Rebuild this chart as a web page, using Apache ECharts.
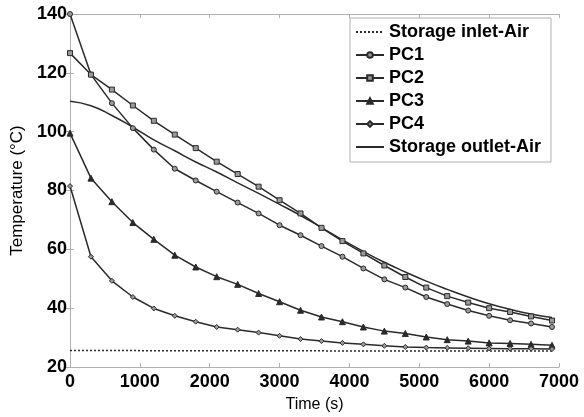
<!DOCTYPE html>
<html>
<head>
<meta charset="utf-8">
<script src="https://cdn.jsdelivr.net/npm/echarts@6/dist/echarts.min.js"></script>
<style>
  html, body { margin: 0; padding: 0; background: #fff; }
  #chart-container { width: 584px; height: 417px; }
</style>
</head>
<body>
<div id="chart-container"></div>
<script>
// time steps (s), one marker every 300 s
var times = [0, 300, 600, 900, 1200, 1500, 1800, 2100, 2400, 2700, 3000, 3300,
  3600, 3900, 4200, 4500, 4800, 5100, 5400, 5700, 6000, 6300, 6600, 6900];

var inletAir = [25.6, 25.6, 25.6, 25.6, 25.5, 25.5, 25.5, 25.5, 25.5, 25.5, 25.5, 25.5,
  25.5, 25.4, 25.4, 25.4, 25.4, 25.4, 25.4, 25.4, 25.4, 25.4, 25.4, 25.4];
var pc1 = [140, 119.4, 109.7, 101.2, 93.9, 87.4, 83.4, 79.6, 75.9, 72.2, 68.2, 64.8,
  61.1, 57.5, 53.5, 49.8, 47.0, 43.8, 41.4, 39.2, 37.4, 35.9, 34.8, 33.6];
var pc2 = [126.7, 119.4, 114.3, 108.9, 103.7, 99.0, 94.4, 89.8, 85.6, 81.3, 76.7, 72.2,
  67.3, 62.8, 58.6, 54.5, 50.6, 47.0, 44.1, 41.9, 40.0, 38.7, 37.2, 35.8];
var pc3 = [99.5, 84.2, 76.2, 69.1, 63.4, 58.0, 54.0, 50.7, 48.1, 45.0, 42.2, 39.3,
  37.0, 35.4, 33.6, 32.2, 31.4, 30.2, 29.3, 28.8, 28.2, 28.0, 27.7, 27.4];
var pc4 = [81.5, 57.5, 49.3, 43.8, 39.9, 37.4, 35.4, 33.6, 32.7, 31.7, 30.6, 29.5,
  28.8, 28.2, 27.7, 27.2, 26.8, 26.6, 26.5, 26.4, 26.3, 26.2, 26.2, 26.1];
var outletAir = [110.3, 108.8, 105.5, 101.5, 97.2, 93.5, 89.7, 86.3, 82.6, 79.0, 75.3, 71.5,
  67.4, 63.2, 59.3, 55.6, 52.3, 49.2, 46.4, 43.8, 41.5, 39.6, 38.0, 36.8];

var seriesNames = ['Storage inlet-Air', 'PC1', 'PC2', 'PC3', 'PC4', 'Storage outlet-Air'];

function pairs(vals) {
  return times.map(function (t, i) { return [t, vals[i]]; });
}

var dom = document.getElementById('chart-container');
var myChart = echarts.init(dom, null, { renderer: 'canvas' });

var frameColor = '#b0b0b0';
var lineColor = '#2a2a2a';
var fontFam = 'Liberation Sans, Arial, sans-serif';
var tickLabel = {
  color: '#000', fontWeight: 'bold', fontSize: 18, fontFamily: fontFam,
  formatter: function (v) { return String(v); }
};

function markerSeries(name, vals, symbol, fill) {
  return {
    name: name,
    type: 'line',
    data: pairs(vals),
    symbol: symbol,
    symbolSize: symbol === 'triangle' ? 6 : 5,
    showAllSymbol: true,
    lineStyle: { color: lineColor, width: 1.5 },
    itemStyle: { color: fill, borderColor: lineColor, borderWidth: 1 },
    z: 3
  };
}

var option = {
  animation: false,
  backgroundColor: '#fff',
  grid: { left: 70, right: 25, top: 14, bottom: 50, outerBoundsMode: 'none' },
  legend: {
    data: seriesNames,
    orient: 'vertical',
    left: 350,
    top: 18,
    itemWidth: 28,
    itemHeight: 7,
    itemGap: 5,
    padding: [5, 10, 6, 5],
    backgroundColor: '#fff',
    borderColor: frameColor,
    borderWidth: 1,
    textStyle: { color: '#000', fontWeight: 'bold', fontSize: 18, fontFamily: fontFam }
  },
  xAxis: [
    {
      type: 'value', min: 0, max: 7000, interval: 1000,
      name: 'Time (s)', nameLocation: 'middle', nameGap: 30,
      nameTextStyle: { color: '#000', fontSize: 16, fontFamily: fontFam },
      axisLine: { lineStyle: { color: frameColor, width: 1 } },
      axisTick: { inside: true, length: 4, lineStyle: { color: frameColor } },
      axisLabel: Object.assign({ margin: 6 }, tickLabel),
      splitLine: { show: false }
    },
    {
      type: 'value', min: 0, max: 7000, interval: 1000, position: 'top',
      axisLine: { lineStyle: { color: frameColor, width: 1 } },
      axisTick: { inside: true, length: 4, lineStyle: { color: frameColor } },
      axisLabel: { show: false },
      splitLine: { show: false }
    }
  ],
  yAxis: [
    {
      type: 'value', min: 20, max: 140, interval: 20,
      name: 'Temperature (\u00B0C)', nameLocation: 'middle', nameGap: 41,
      nameTextStyle: { color: '#000', fontSize: 17, fontFamily: fontFam },
      axisLine: { show: true, lineStyle: { color: frameColor, width: 1 } },
      axisTick: { show: true, inside: true, length: 4, lineStyle: { color: frameColor } },
      axisLabel: Object.assign({ margin: 3 }, tickLabel),
      splitLine: { show: false }
    },
    {
      type: 'value', min: 20, max: 140, interval: 20, position: 'right',
      axisLine: { show: true, lineStyle: { color: frameColor, width: 1 } },
      axisTick: { show: true, inside: true, length: 4, lineStyle: { color: frameColor } },
      axisLabel: { show: false },
      splitLine: { show: false }
    }
  ],
  series: [
    {
      name: 'Storage inlet-Air',
      type: 'line',
      data: pairs(inletAir),
      symbol: 'none',
      lineStyle: { color: lineColor, width: 1.5, type: [2, 2] },
      itemStyle: { color: 'rgba(0,0,0,0)', borderWidth: 0 }
    },
    markerSeries('PC1', pc1, 'circle', '#9a9a9a'),
    markerSeries('PC2', pc2, 'rect', '#9a9a9a'),
    markerSeries('PC3', pc3, 'triangle', '#2a2a2a'),
    markerSeries('PC4', pc4, 'diamond', '#9a9a9a'),
    {
      name: 'Storage outlet-Air',
      type: 'line',
      data: pairs(outletAir),
      smooth: true,
      symbol: 'none',
      lineStyle: { color: lineColor, width: 1.5 },
      itemStyle: { color: 'rgba(0,0,0,0)', borderWidth: 0 }
    }
  ]
};

myChart.setOption(option);
window.addEventListener('resize', myChart.resize);
</script>
</body>
</html>
